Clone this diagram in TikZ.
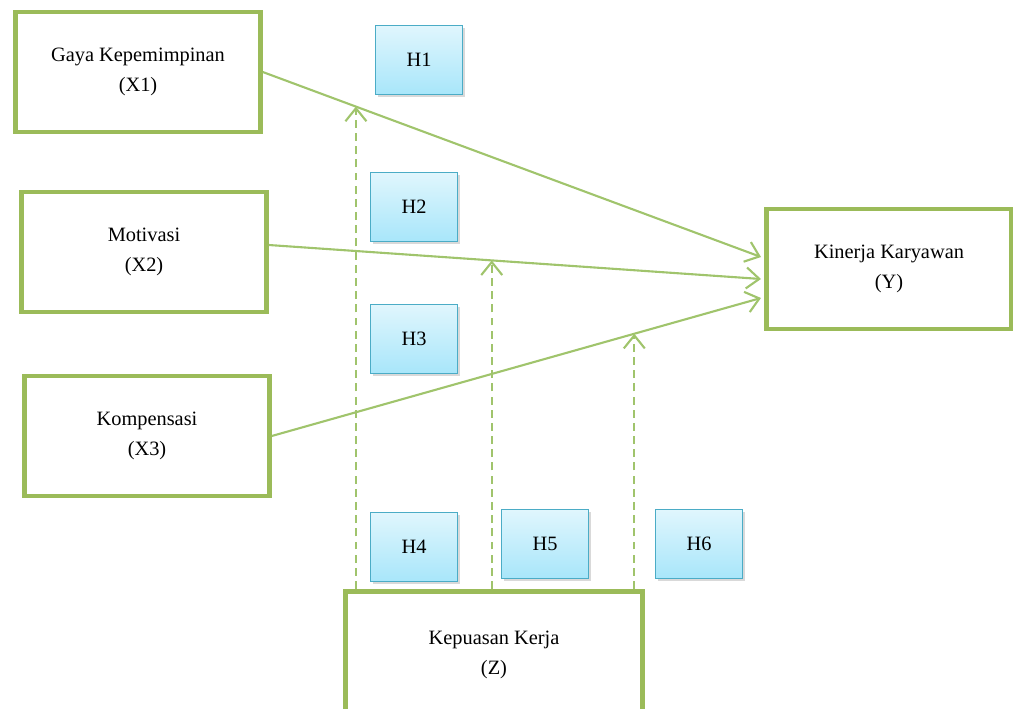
\documentclass[tikz,border=0pt]{standalone}
\usepackage{fontspec}
\setmainfont{Liberation Serif}
\usepackage{tikz}
\usetikzlibrary{arrows.meta,positioning,calc,shadows}
\definecolor{leafgreen}{RGB}{155,187,89}
\definecolor{linegreen}{RGB}{160,196,108}
\definecolor{hborder}{RGB}{75,172,198}
\definecolor{htop}{RGB}{224,246,253}
\definecolor{hbottom}{RGB}{168,230,250}
\tikzset{
  var/.style={draw=leafgreen,line width=2.6pt,fill=white,minimum width=4.9cm,minimum height=2.4cm,align=center,font=\fontsize{11.6}{17}\selectfont,inner sep=2pt},
  hyp/.style={draw=hborder,line width=1.1pt,top color=htop,bottom color=hbottom,minimum width=1.74cm,minimum height=1.38cm,font=\fontsize{11.6}{14}\selectfont,drop shadow={shadow xshift=1.5pt,shadow yshift=-1.5pt,opacity=0.3}},
  eff/.style={-{Straight Barb[length=2.6mm,width=4.2mm]},draw=linegreen,line width=1.2pt},
  mod/.style={-{Straight Barb[length=2.6mm,width=4.2mm]},draw=linegreen,line width=1.2pt,dash pattern=on 4.5pt off 3pt}
}
\begin{document}
\begin{tikzpicture}[x=0.02cm,y=-0.02cm]
  \useasboundingbox (0,0) rectangle (1013,709);
  \clip (0,0) rectangle (1013,709);
  % variables
  \node[var] (x1) at (138,72) {Gaya Kepemimpinan\\(X1)};
  \node[var] (x2) at (144,252) {Motivasi\\(X2)};
  \node[var] (x3) at (147,436) {Kompensasi\\(X3)};
  \node[var] (y) at (889,269) {Kinerja Karyawan\\(Y)};
  \node[var,minimum width=5.95cm,minimum height=2.55cm] (z) at (494,655) {Kepuasan Kerja\\(Z)};
  % hypotheses
  \node[hyp] (h1) at (419,60) {H1};
  \node[hyp] (h2) at (414,207) {H2};
  \node[hyp] (h3) at (414,339) {H3};
  \node[hyp] (h4) at (414,547) {H4};
  \node[hyp] (h5) at (545,544) {H5};
  \node[hyp] (h6) at (699,544) {H6};
  % direct effects
  \coordinate (y1) at (761,257);
  \coordinate (y2) at (761,279);
  \coordinate (y3) at (761,298);
  \draw[eff] (x1.east) -- coordinate[pos=0.187] (m1) (y1);
  \draw[eff] (x2.east) ++(0,-7) coordinate (s2) (s2) -- coordinate[pos=0.453] (m2) (y2);
  \draw[eff] (x3.east) -- coordinate[pos=0.741] (m3) (y3);
  % moderation
  \draw[mod] (m1 |- z.north) -- (m1);
  \draw[mod] (m2 |- z.north) -- (m2);
  \draw[mod] (m3 |- z.north) -- (m3);
\end{tikzpicture}
\end{document}
